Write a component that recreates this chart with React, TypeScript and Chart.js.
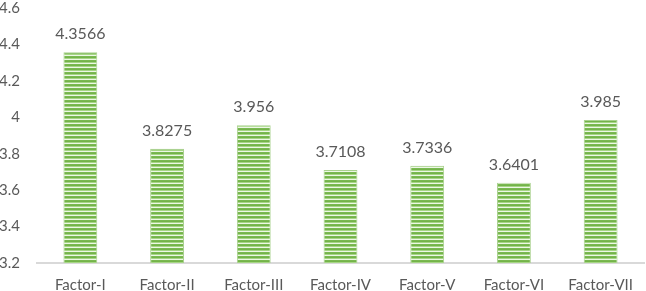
import React, { useEffect, useRef } from "react";
import { Chart, registerables } from "chart.js";

Chart.register(...registerables);

const categories = ["Factor-I", "Factor-II", "Factor-III", "Factor-IV", "Factor-V", "Factor-VI", "Factor-VII"];
const values = [4.3566, 3.8275, 3.956, 3.7108, 3.7336, 3.6401, 3.985];
const valueLabels = ["4.3566", "3.8275", "3.956", "3.7108", "3.7336", "3.6401", "3.985"];
const yMin = 3.2;
const yMax = 4.6;
const yStep = 0.2;

const FONT = "Lato, sans-serif";
const TEXT = "#595959";

function makePattern(): CanvasPattern | string {
  const c = document.createElement("canvas");
  c.width = 1;
  c.height = 4;
  const ctx = c.getContext("2d");
  if (!ctx) return "#70AD47";
  const rows = ["#7ab951", "#74b34a", "#a6d685", "#edf7e6"];
  rows.forEach((col, i) => {
    ctx.fillStyle = col;
    ctx.fillRect(0, i, 1, 1);
  });
  const p = ctx.createPattern(c, "repeat");
  return p || "#70AD47";
}

const labelPlugin = {
  id: "valueLabels",
  afterDatasetsDraw(chart: any) {
    const ctx = chart.ctx;
    const meta = chart.getDatasetMeta(0);
    ctx.save();
    ctx.font = `16px ${FONT}`;
    ctx.fillStyle = TEXT;
    ctx.textAlign = "center";
    ctx.textBaseline = "alphabetic";
    meta.data.forEach((bar: any, i: number) => {
      ctx.fillText(valueLabels[i], bar.x, bar.y - 13);
    });
    ctx.restore();
  },
};

export default function App() {
  const ref = useRef<HTMLCanvasElement>(null);
  useEffect(() => {
    if (!ref.current) return;
    const chart = new Chart(ref.current, {
      type: "bar",
      data: {
        labels: categories,
        datasets: [
          {
            data: values,
            backgroundColor: makePattern() as any,
            borderColor: "#a9d18e",
            borderWidth: 1,
            barPercentage: 0.39,
            categoryPercentage: 1,
          },
        ],
      },
      options: {
        animation: false,
        responsive: false,
        maintainAspectRatio: false,
        layout: { padding: 0 },
        plugins: { legend: { display: false }, tooltip: { enabled: false } },
        scales: {
          x: {
            grid: { display: false, drawTicks: false },
            border: { display: true, color: "#d9d9d9", width: 2 },
            ticks: { color: TEXT, font: { family: FONT, size: 15 }, padding: 13, maxRotation: 0, autoSkip: false },
            afterFit: (s: any) => {
              s.height = 28;
            },
          },
          y: {
            min: yMin,
            max: yMax,
            grid: { display: false, drawTicks: false },
            border: { display: false },
            ticks: {
              stepSize: yStep,
              color: TEXT,
              font: { family: FONT, size: 15 },
              padding: 17,
              callback: (v: any) => String(Math.round(Number(v) * 10) / 10),
            },
            afterFit: (s: any) => {
              s.width = 37;
              s.paddingTop = 8;
              s.paddingBottom = 0;
            },
          },
        },
      },
      plugins: [labelPlugin],
    });
    return () => chart.destroy();
  }, []);
  return (
    <div style={{ position: "fixed", left: 0, top: 0, width: 646, height: 291, background: "#fff" }}>
      <canvas ref={ref} width={646} height={291} />
    </div>
  );
}
